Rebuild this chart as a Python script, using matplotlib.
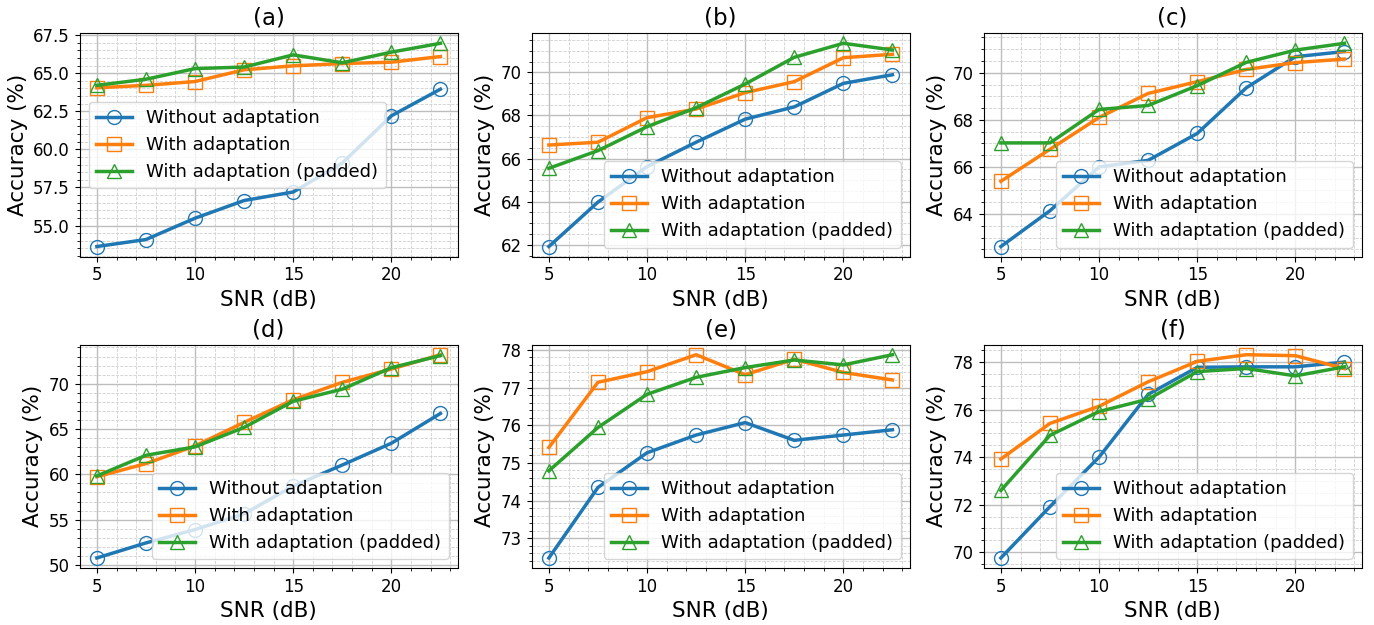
import matplotlib
matplotlib.use("Agg")
import matplotlib.pyplot as plt

snr = [5, 7.5, 10, 12.5, 15, 17.5, 20, 22.5]
series_labels = ["Without adaptation", "With adaptation", "With adaptation (padded)"]
panel_titles = ["(a)", "(b)", "(c)", "(d)", "(e)", "(f)"]

a_without = [53.62, 54.08, 55.48, 56.64, 57.2, 59.1, 62.2, 63.95]
a_with = [64.04, 64.2, 64.45, 65.22, 65.48, 65.63, 65.72, 66.09]
a_padded = [64.2, 64.6, 65.3, 65.4, 66.2, 65.68, 66.38, 66.96]

b_without = [61.92, 63.98, 65.63, 66.76, 67.83, 68.4, 69.49, 69.89]
b_with = [66.63, 66.76, 67.9, 68.3, 69.06, 69.57, 70.68, 70.84]
b_padded = [65.55, 66.37, 67.48, 68.36, 69.46, 70.7, 71.35, 71.04]

c_without = [62.62, 64.14, 66.0, 66.28, 67.42, 69.36, 70.68, 70.9]
c_with = [65.39, 66.75, 68.1, 69.12, 69.62, 70.14, 70.43, 70.58]
c_padded = [67.02, 67.02, 68.44, 68.61, 69.45, 70.44, 70.96, 71.25]

d_without = [50.77, 52.43, 53.9, 55.64, 58.7, 61.03, 63.43, 66.72]
d_with = [59.74, 61.18, 63.14, 65.73, 68.23, 70.15, 71.62, 73.2]
d_padded = [59.82, 62.1, 63.03, 65.18, 68.06, 69.4, 71.77, 73.1]

e_without = [72.48, 74.35, 75.27, 75.74, 76.07, 75.6, 75.74, 75.88]
e_with = [75.41, 77.14, 77.42, 77.87, 77.34, 77.75, 77.4, 77.2]
e_padded = [74.79, 75.94, 76.82, 77.27, 77.53, 77.73, 77.6, 77.87]

f_without = [69.76, 71.92, 74.0, 76.64, 77.78, 77.8, 77.8, 78.0]
f_with = [73.92, 75.42, 76.14, 77.17, 78.03, 78.31, 78.27, 77.73]
f_padded = [72.6, 74.92, 75.92, 76.44, 77.6, 77.73, 77.42, 77.8]

panels = [
    (a_without, a_with, a_padded),
    (b_without, b_with, b_padded),
    (c_without, c_with, c_padded),
    (d_without, d_with, d_padded),
    (e_without, e_with, e_padded),
    (f_without, f_with, f_padded),
]
legend_locs = ["center left", "lower right", "lower right", "lower right", "lower right", "lower right"]

colors = ["#1f77b4", "#ff7f0e", "#2ca02c"]
markers = ["o", "s", "^"]

fig, axes = plt.subplots(2, 3, figsize=(13.74, 6.25), dpi=100)
fig.subplots_adjust(left=0.058, right=0.991, top=0.947, bottom=0.091, wspace=0.196, hspace=0.393)

for ax, data, title, loc in zip(axes.flat, panels, panel_titles, legend_locs):
    for ys, lab, c, m in zip(data, series_labels, colors, markers):
        ax.plot(snr, ys, color=c, marker=m, markersize=10, markerfacecolor="none",
                markeredgecolor=c, markeredgewidth=1.0, linewidth=2.5, label=lab)
    ax.set_title(title, fontsize=16.5)
    ax.set_xlabel("SNR (dB)", fontsize=15.5)
    ax.set_ylabel("Accuracy (%)", fontsize=15.5)
    ax.set_xticks([5, 10, 15, 20])
    ax.tick_params(axis="both", which="major", labelsize=12)
    ax.minorticks_on()
    ax.grid(which="major", linestyle="-", linewidth=1.0, color="#bdbdbd")
    ax.grid(which="minor", linestyle="--", linewidth=0.6, color="#d0d0d0")
    ax.set_axisbelow(True)
    ax.legend(loc=loc, fontsize=13)

fig.savefig("out.png", dpi=100)
